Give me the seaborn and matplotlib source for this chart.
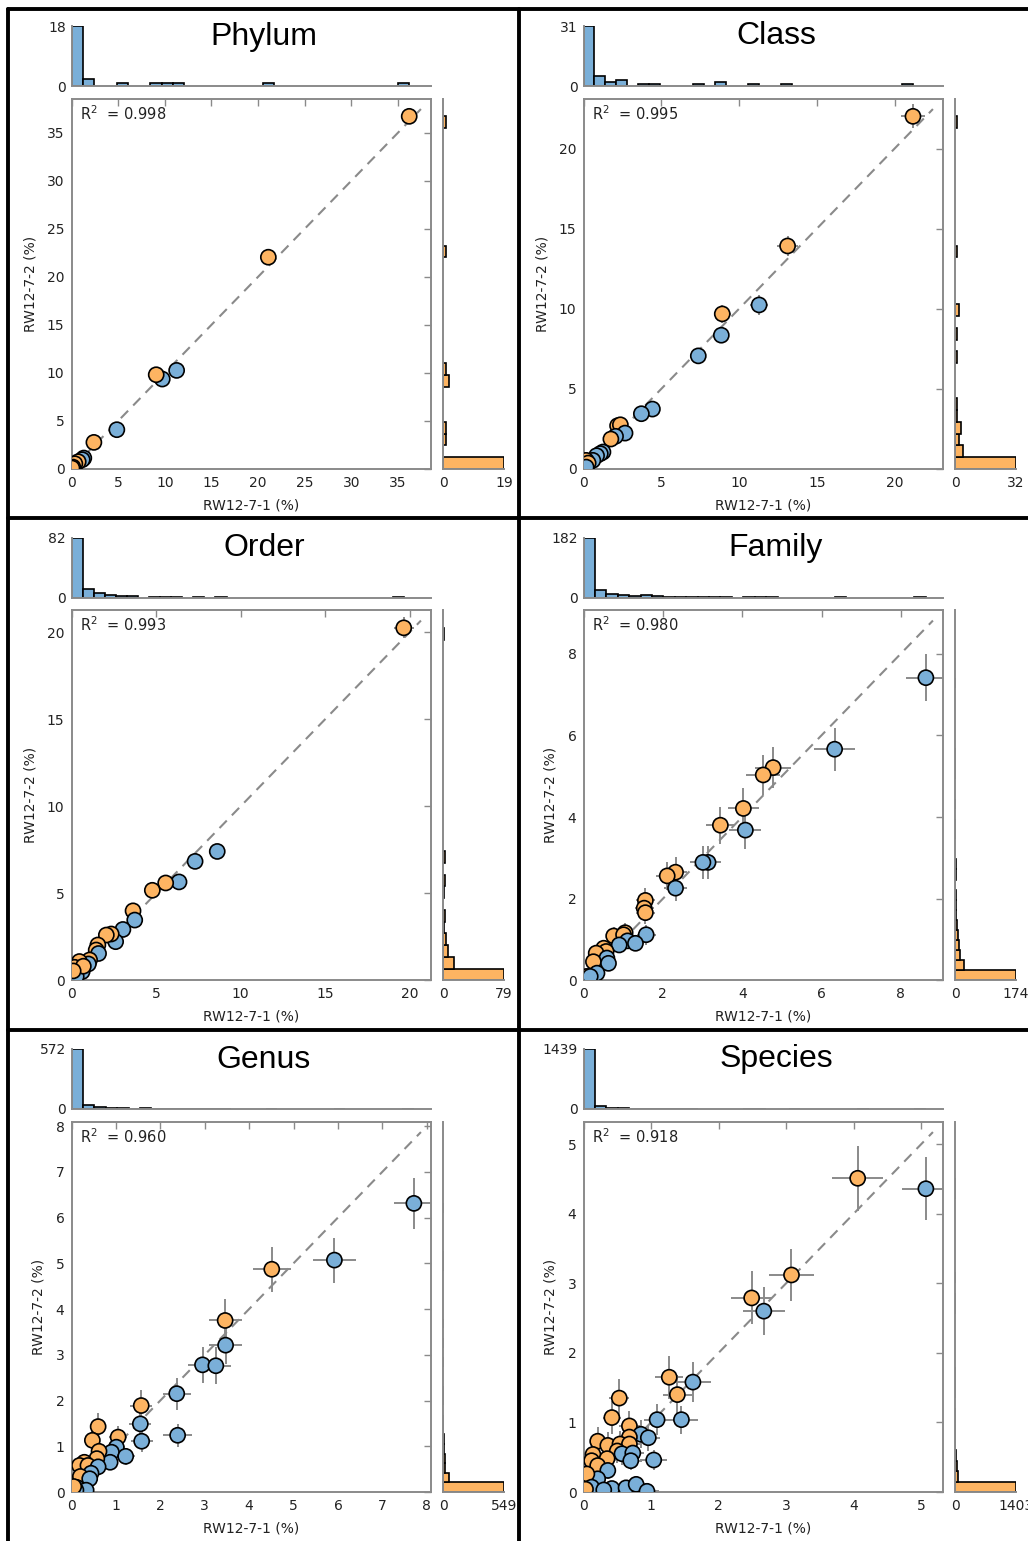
import numpy as np
import pandas as pd
import matplotlib
matplotlib.use("Agg")
import matplotlib.pyplot as plt
from matplotlib.lines import Line2D
from matplotlib.ticker import MultipleLocator
import seaborn as sns

# ---- data ----
ranks = ['Phylum', 'Class', 'Order', 'Family', 'Genus', 'Species']
r2_values = [0.998, 0.995, 0.993, 0.980, 0.960, 0.918]
tick_steps = [5, 5, 5, 2, 1, 1]

phylum_x = [36.2, 21.1, 11.27, 9.73, 9.08, 4.86, 2.40, 1.32, 1.15, 0.72, 0.36, 0.15, 0.05]
phylum_y = [36.7, 22.04, 10.26, 9.36, 9.81, 4.09, 2.77, 1.14, 0.97, 0.76, 0.55, 0.20, 0.10]
phylum_xerr = [0.5, 0.4, 0.3, 0.3, 0.3, 0.2, 0.15, 0.1, 0.1, 0.08, 0.06, 0.04, 0.02]
phylum_yerr = [0.6, 0.45, 0.3, 0.3, 0.3, 0.2, 0.15, 0.1, 0.1, 0.08, 0.06, 0.04, 0.02]
phylum_top = [18, 2, 0, 0, 1, 0, 0, 1, 1, 1, 0, 0, 0, 0, 0, 0, 0, 1, 0, 0, 0, 0, 0, 0, 0, 0, 0, 0, 0, 1]
phylum_right = [19, 0, 1, 1, 0, 0, 0, 2, 1, 0, 0, 0, 0, 0, 0, 0, 0, 0, 1, 0, 0, 0, 0, 0, 0, 0, 0, 0, 0, 1]

class_x = [21.18, 13.12, 11.29, 8.92, 8.86, 7.38, 4.43, 3.72, 2.19, 2.37, 2.67, 2.06, 1.76,
           1.25, 1.08, 0.84, 0.60, 0.17, 0.30, 0.17]
class_y = [22.01, 13.92, 10.24, 9.68, 8.35, 7.06, 3.74, 3.45, 2.70, 2.76, 2.24, 2.04, 1.87,
           1.06, 0.96, 0.83, 0.54, 0.54, 0.37, 0.12]
class_xerr = [0.75, 0.65, 0.6, 0.55, 0.5, 0.5, 0.35, 0.33, 0.25, 0.25, 0.25, 0.22, 0.2,
              0.18, 0.16, 0.14, 0.12, 0.07, 0.08, 0.06]
class_yerr = [0.75, 0.65, 0.6, 0.55, 0.5, 0.5, 0.35, 0.33, 0.25, 0.25, 0.25, 0.22, 0.2,
              0.18, 0.16, 0.14, 0.12, 0.1, 0.08, 0.05]
class_top = [31, 5, 2, 3, 0, 1, 1, 0, 0, 0, 1, 0, 2, 0, 0, 1, 0, 0, 1, 0, 0, 0, 0, 0, 0, 0, 0, 0, 0, 1]
class_right = [32, 4, 2, 3, 1, 1, 0, 0, 0, 1, 0, 1, 0, 2, 0, 0, 0, 0, 1, 0, 0, 0, 0, 0, 0, 0, 0, 0, 0, 1]

order_x = [19.65, 8.62, 7.31, 6.36, 5.57, 4.78, 3.64, 3.74, 3.04, 2.61, 2.35, 2.06, 1.56, 1.46,
           1.60, 1.07, 1.00, 0.47, 0.63, 0.18, 0.28, 0.70, 0.10]
order_y = [20.25, 7.41, 6.84, 5.66, 5.60, 5.18, 4.00, 3.47, 2.93, 2.23, 2.67, 2.61, 2.04, 1.75,
           1.55, 1.18, 0.95, 1.09, 0.51, 0.76, 0.23, 0.82, 0.55]
order_xerr = [0.6, 0.45, 0.4, 0.38, 0.35, 0.33, 0.3, 0.3, 0.27, 0.25, 0.24, 0.22, 0.2, 0.2,
              0.2, 0.16, 0.15, 0.12, 0.12, 0.07, 0.08, 0.13, 0.05]
order_yerr = [0.6, 0.45, 0.4, 0.38, 0.35, 0.33, 0.3, 0.3, 0.27, 0.25, 0.24, 0.22, 0.2, 0.2,
              0.2, 0.16, 0.15, 0.15, 0.12, 0.12, 0.07, 0.14, 0.1]
order_top = [82, 11, 6, 3, 2, 2, 0, 1, 1, 1, 0, 1, 0, 1, 0, 0, 0, 0, 0, 0, 0, 0, 0, 0, 0, 0, 0, 0, 0, 1]
order_right = [79, 14, 6, 4, 1, 2, 0, 1, 2, 0, 2, 0, 0, 0, 0, 0, 0, 0, 0, 0, 0, 0, 0, 0, 0, 0, 0, 0, 0, 1]

family_x = [8.63, 6.33, 4.78, 4.53, 4.03, 4.08, 3.45, 3.14, 3.01, 2.32, 2.11, 2.32, 1.56, 1.53,
            1.56, 1.58, 0.76, 1.05, 1.01, 1.11, 0.90, 1.31, 0.51, 0.57, 0.32, 0.59, 0.25, 0.63,
            0.34, 0.08, 0.17]
family_y = [7.41, 5.66, 5.21, 5.03, 4.21, 3.68, 3.80, 2.89, 2.89, 2.65, 2.56, 2.26, 1.96, 1.77,
            1.66, 1.12, 1.09, 1.17, 1.12, 0.97, 0.87, 0.91, 0.79, 0.71, 0.67, 0.55, 0.46, 0.42,
            0.18, 0.10, 0.10]
family_xerr = [0.5, 0.52, 0.45, 0.43, 0.4, 0.4, 0.35, 0.32, 0.32, 0.3, 0.28, 0.3, 0.24, 0.24,
               0.24, 0.24, 0.17, 0.2, 0.2, 0.2, 0.18, 0.22, 0.14, 0.15, 0.11, 0.15, 0.1, 0.15,
               0.11, 0.05, 0.07]
family_yerr = [0.57, 0.53, 0.5, 0.5, 0.5, 0.45, 0.45, 0.4, 0.4, 0.38, 0.35, 0.32, 0.3, 0.28,
               0.28, 0.24, 0.22, 0.23, 0.22, 0.2, 0.19, 0.19, 0.18, 0.17, 0.16, 0.15, 0.14, 0.13,
               0.08, 0.06, 0.06]
family_top = [182, 22, 10, 9, 6, 7, 5, 3, 3, 1, 2, 1, 1, 0, 2, 1, 1, 0, 0, 0, 0, 0, 1, 0, 0, 0, 0, 0, 0, 1]
family_right = [174, 25, 15, 11, 8, 5, 4, 2, 2, 1, 2, 2, 0, 0, 1, 1, 0, 1, 0, 0, 1, 1, 1, 0, 0, 0, 0, 0, 0, 1]

genus_x = [7.71, 5.92, 4.51, 3.46, 3.47, 2.95, 3.25, 2.37, 2.39, 1.57, 1.55, 1.58, 0.60, 0.47,
           1.05, 1.01, 0.90, 1.22, 0.87, 0.62, 0.57, 0.29, 0.18, 0.37, 0.60, 0.44, 0.20, 0.41,
           0.12, 0.33, 0.10, 0.05]
genus_y = [6.31, 5.07, 4.87, 3.75, 3.21, 2.78, 2.76, 2.15, 1.24, 1.89, 1.49, 1.11, 1.43, 1.13,
           1.20, 0.98, 0.87, 0.78, 0.65, 0.89, 0.73, 0.65, 0.58, 0.58, 0.55, 0.41, 0.34, 0.29,
           0.10, 0.04, 0.04, 0.12]
genus_xerr = [0.45, 0.48, 0.43, 0.37, 0.37, 0.33, 0.35, 0.32, 0.32, 0.25, 0.25, 0.25, 0.15, 0.14,
              0.2, 0.2, 0.18, 0.21, 0.18, 0.15, 0.15, 0.11, 0.09, 0.12, 0.15, 0.13, 0.09, 0.13,
              0.06, 0.11, 0.06, 0.04]
genus_yerr = [0.55, 0.49, 0.49, 0.46, 0.42, 0.4, 0.4, 0.35, 0.25, 0.33, 0.28, 0.24, 0.3, 0.25,
              0.25, 0.22, 0.2, 0.19, 0.17, 0.2, 0.18, 0.17, 0.16, 0.16, 0.16, 0.14, 0.12, 0.11,
              0.06, 0.04, 0.04, 0.07]
genus_top = [572, 40, 18, 10, 6, 4, 5, 2, 1, 2, 1, 1, 1, 2, 0, 0, 0, 1, 0, 0, 0, 0, 0, 1, 0, 0, 0, 0, 0, 1]
genus_right = [549, 55, 22, 14, 8, 6, 3, 2, 0, 1, 1, 0, 0, 2, 0, 1, 0, 1, 0, 0, 0, 0, 0, 1, 1, 0, 0, 0, 0, 1]

species_x = [4.06, 5.07, 3.08, 2.49, 2.67, 1.27, 1.62, 1.39, 0.53, 0.42, 1.09, 1.45, 0.68, 0.85,
             0.96, 0.68, 0.21, 0.36, 0.54, 0.68, 0.50, 0.57, 0.73, 0.70, 1.04, 0.14, 0.12, 0.35,
             0.21, 0.36, 0.21, 0.05, 0.12, 0.42, 0.63, 0.78, 0.94, 0.30, 0.03]
species_y = [4.51, 4.36, 3.12, 2.79, 2.60, 1.65, 1.58, 1.40, 1.35, 1.07, 1.04, 1.04, 0.95, 0.83,
             0.78, 0.79, 0.73, 0.67, 0.69, 0.69, 0.59, 0.55, 0.56, 0.45, 0.46, 0.54, 0.45, 0.48,
             0.38, 0.31, 0.19, 0.26, 0.07, 0.05, 0.06, 0.11, 0.01, 0.03, 0.04]
species_xerr = [0.38, 0.36, 0.34, 0.3, 0.31, 0.21, 0.27, 0.22, 0.15, 0.13, 0.2, 0.24, 0.15, 0.17,
                0.18, 0.15, 0.09, 0.12, 0.14, 0.15, 0.14, 0.14, 0.16, 0.16, 0.2, 0.07, 0.07, 0.11,
                0.09, 0.11, 0.09, 0.04, 0.07, 0.13, 0.15, 0.17, 0.18, 0.1, 0.03]
species_yerr = [0.47, 0.45, 0.38, 0.38, 0.35, 0.31, 0.29, 0.28, 0.27, 0.24, 0.22, 0.2, 0.22, 0.2,
                0.19, 0.2, 0.2, 0.19, 0.19, 0.18, 0.17, 0.16, 0.16, 0.14, 0.14, 0.16, 0.15, 0.15,
                0.13, 0.12, 0.09, 0.1, 0.05, 0.04, 0.05, 0.06, 0.02, 0.03, 0.03]
species_top = [1439, 60, 22, 12, 9, 5, 3, 1, 2, 1, 0, 0, 0, 0, 1, 1, 0, 0, 1, 0, 0, 0, 0, 0, 1, 0, 0, 0, 0, 1]
species_right = [1403, 74, 35, 18, 10, 5, 3, 2, 0, 2, 1, 1, 0, 0, 0, 0, 0, 1, 1, 0, 1, 0, 0, 0, 0, 0, 0, 0, 1, 1]

panels = [
    (phylum_x, phylum_y, phylum_xerr, phylum_yerr, phylum_top, phylum_right),
    (class_x, class_y, class_xerr, class_yerr, class_top, class_right),
    (order_x, order_y, order_xerr, order_yerr, order_top, order_right),
    (family_x, family_y, family_xerr, family_yerr, family_top, family_right),
    (genus_x, genus_y, genus_xerr, genus_yerr, genus_top, genus_right),
    (species_x, species_y, species_xerr, species_yerr, species_top, species_right),
]

# ---- style ----
blue = '#7aafd8'
orange = '#fdb462'
grey = '#8a8a8a'
sns.set_theme(style='white')
plt.rcParams['font.family'] = ['DejaVu Sans']
plt.rcParams['axes.edgecolor'] = grey
plt.rcParams['axes.linewidth'] = 1.4
plt.rcParams['xtick.color'] = grey
plt.rcParams['ytick.color'] = grey
plt.rcParams['xtick.labelcolor'] = '#222222'
plt.rcParams['ytick.labelcolor'] = '#222222'
plt.rcParams['axes.labelcolor'] = '#222222'

W, H = 1028, 1541
fig = plt.figure(figsize=(W / 100, H / 100), dpi=100)


def box(l, t, r, b):
    return [l / W, 1 - b / H, (r - l) / W, (b - t) / H]


def hide_empty(ax):
    for p in ax.patches:
        if p.get_height() == 0 or p.get_width() == 0:
            p.set_visible(False)


for i, name in enumerate(ranks):
    x, y, xe, ye, top_counts, right_counts = panels[i]
    r, c = divmod(i, 2)
    dx, dy = 512 * c, 511.5 * r

    df = pd.DataFrame({'x': x, 'y': y, 'xerr': xe, 'yerr': ye})
    df['side'] = np.where(df['y'] > df['x'], 'rep2', 'rep1')
    lim = max(df['x'].max(), df['y'].max()) * 1.05

    ax = fig.add_axes(box(71.5 + dx, 98.7 + dy, 431 + dx, 469 + dy))
    ax_top = fig.add_axes(box(71.5 + dx, 26 + dy, 431 + dx, 86 + dy))
    ax_right = fig.add_axes(box(443 + dx, 98.7 + dy, 504 + dx, 469 + dy))

    # main scatter
    ax.plot([0, lim * 0.972], [0, lim * 0.972], ls=(0, (5, 3.5)), color=grey, lw=1.5, zorder=1)
    ax.errorbar(df['x'], df['y'], xerr=df['xerr'], yerr=df['yerr'], fmt='none',
                ecolor=grey, elinewidth=1.4, capsize=0, zorder=2)
    sns.scatterplot(data=df, x='x', y='y', hue='side', palette={'rep1': blue, 'rep2': orange},
                    s=118, edgecolor='black', linewidth=1.2, legend=False, ax=ax, zorder=3)
    ax.set_xlim(0, lim)
    ax.set_ylim(0, lim)
    ax.xaxis.set_major_locator(MultipleLocator(tick_steps[i]))
    ax.yaxis.set_major_locator(MultipleLocator(tick_steps[i]))
    ax.tick_params(direction='in', top=True, right=True, length=5, width=1, labelsize=10, pad=5)
    ax.set_xlabel('RW12-7-1 (%)', fontsize=10, labelpad=6)
    ax.set_ylabel('RW12-7-2 (%)', fontsize=10, labelpad=7)
    ax.text(0.025, 0.985, 'R$^2$  = %.3f' % r2_values[i], transform=ax.transAxes,
            ha='left', va='top', fontsize=10.5, color='#222222')

    # top marginal histogram (x)
    edges_x = np.linspace(0, df['x'].max(), len(top_counts) + 1)
    hx = pd.DataFrame({'v': (edges_x[:-1] + edges_x[1:]) / 2, 'n': top_counts})
    sns.histplot(data=hx, x='v', weights='n', bins=list(edges_x), ax=ax_top, color=blue,
                 edgecolor='black', linewidth=1.2, alpha=1)
    hide_empty(ax_top)
    ax_top.set_xlim(0, lim)
    ax_top.set_ylim(0, max(top_counts))
    ax_top.set_yticks([0, max(top_counts)])
    ax_top.xaxis.set_major_locator(MultipleLocator(tick_steps[i]))
    ax_top.tick_params(axis='x', direction='in', length=5, labelbottom=False)
    ax_top.tick_params(axis='y', direction='in', length=5, labelsize=10, pad=4)
    ax_top.set_xlabel('')
    ax_top.set_ylabel('')
    for s in ['top', 'right']:
        ax_top.spines[s].set_visible(False)

    # right marginal histogram (y)
    edges_y = np.linspace(0, df['y'].max(), len(right_counts) + 1)
    hy = pd.DataFrame({'v': (edges_y[:-1] + edges_y[1:]) / 2, 'n': right_counts})
    sns.histplot(data=hy, y='v', weights='n', bins=list(edges_y), ax=ax_right, color=orange,
                 edgecolor='black', linewidth=1.2, alpha=1)
    hide_empty(ax_right)
    ax_right.set_ylim(0, lim)
    ax_right.set_xlim(0, max(right_counts))
    ax_right.set_xticks([0, max(right_counts)])
    ax_right.yaxis.set_major_locator(MultipleLocator(tick_steps[i]))
    ax_right.tick_params(axis='y', direction='in', length=5, labelleft=False)
    ax_right.tick_params(axis='x', direction='in', length=5, labelsize=10, pad=5)
    ax_right.set_xlabel('')
    ax_right.set_ylabel('')
    for s in ['top', 'right']:
        ax_right.spines[s].set_visible(False)

    fig.text((264 + dx) / W, 1 - (44.5 + dy) / H, name, ha='center', va='baseline',
             fontsize=23, family=['Liberation Sans', 'DejaVu Sans'], color='black')

# black panel frame
frame = [
    ([8, 8], [9, H]),
    ([519, 519], [9, H]),
    ([8, W], [9, 9]),
    ([8, W], [517.5, 517.5]),
    ([8, W], [1030, 1030]),
]
for xs, ys in frame:
    fig.add_artist(Line2D([v / W for v in xs], [1 - v / H for v in ys],
                          transform=fig.transFigure, color='black', lw=2.8))

fig.savefig('out.png', dpi=100)
